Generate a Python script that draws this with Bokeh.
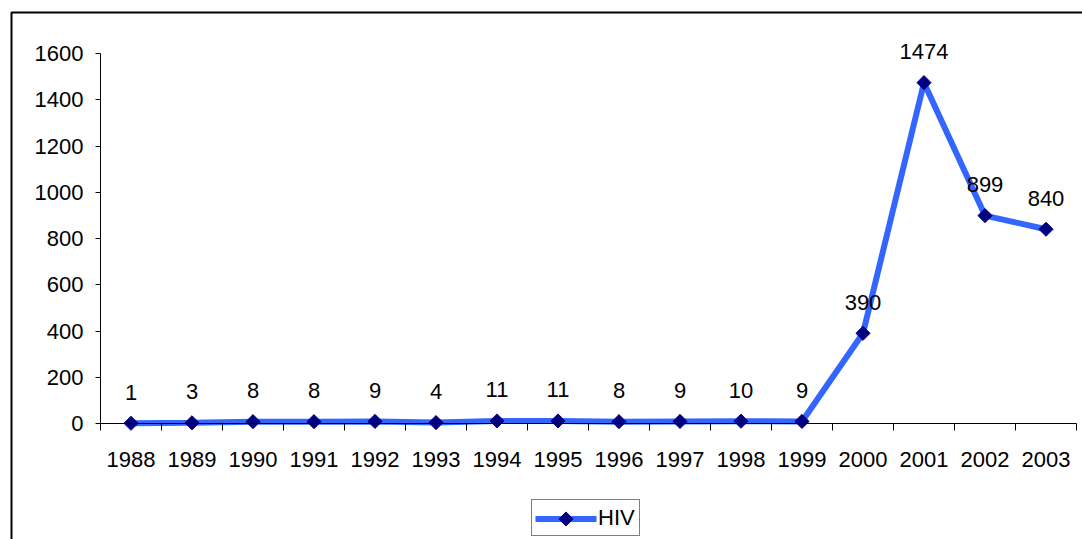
import math
from bokeh.plotting import figure
from bokeh.models import (Range1d, FixedTicker, ColumnDataSource, Legend, LegendItem,
                          BoxAnnotation)
from bokeh.core.properties import value
from bokeh.embed import file_html
from bokeh.resources import INLINE

years = ["1988", "1989", "1990", "1991", "1992", "1993", "1994", "1995",
         "1996", "1997", "1998", "1999", "2000", "2001", "2002", "2003"]
hiv = [1, 3, 8, 8, 9, 4, 11, 11, 8, 9, 10, 9, 390, 1474, 899, 840]
y_ticks = [0, 200, 400, 600, 800, 1000, 1200, 1400, 1600]
series_name = "HIV"

FONT = "Liberation Sans"
W, H = 1082, 539
# pixel layout of the plotting area inside the canvas
X0, X1 = 100, 1076      # left / right of category axis
Y0, Y1 = 423, 53        # pixel rows of value 0 and 1600
n = len(years)
pxx = (X1 - X0) / n
pxy = (Y0 - Y1) / 1600.0


def dx(px):
    return (px - X0) / pxx


def dy(py):
    return (Y0 - py) / pxy


LINE_COLOR = "#3366FF"
MARK_COLOR = "#000080"

xs = [i + 0.5 for i in range(n)]
src = ColumnDataSource(dict(x=xs, y=hiv, lab=[str(v) for v in hiv]))

p = figure(width=W, height=H, output_backend="svg", toolbar_location=None,
           x_range=Range1d(dx(0), dx(W)), y_range=Range1d(dy(H), dy(0)),
           min_border=0, min_border_left=0, min_border_right=0,
           min_border_top=0, min_border_bottom=0)
p.outline_line_color = None
p.grid.visible = False
p.background_fill_color = "white"
p.border_fill_color = "white"

# x axis: boundary ticks as minor, labels at category centers
p.xaxis.fixed_location = 0
p.xaxis.bounds = (0, n)
p.xaxis.ticker = FixedTicker(ticks=xs, minor_ticks=list(range(n + 1)))
p.xaxis.major_label_overrides = {x: y for x, y in zip(xs, years)}
p.xaxis.major_tick_line_color = None
p.xaxis.major_tick_out = 0
p.xaxis.major_tick_in = 0
p.xaxis.minor_tick_out = 7
p.xaxis.minor_tick_in = 0
p.xaxis.minor_tick_line_color = "black"
p.xaxis.major_label_standoff = 21

p.yaxis.fixed_location = 0
p.yaxis.bounds = (0, 1600)
p.yaxis.ticker = FixedTicker(ticks=y_ticks)
p.yaxis.major_tick_out = 5
p.yaxis.major_tick_in = 0
p.yaxis.minor_tick_line_color = None
p.yaxis.major_label_standoff = 12

for ax in (p.xaxis, p.yaxis):
    ax.axis_line_color = "black"
    ax.axis_line_width = 1
    ax.major_label_text_font = FONT
    ax.major_label_text_font_size = "22px"
    ax.major_label_text_color = "black"

ln = p.line("x", "y", source=src, line_color=LINE_COLOR, line_width=6)
mk = p.scatter("x", "y", source=src, marker="square", angle=math.pi / 4, size=10,
               fill_color=MARK_COLOR, line_color=MARK_COLOR)
p.text("x", "y", text="lab", source=src, text_font=value(FONT),
       text_font_size="22px", text_align="center", text_baseline="middle",
       y_offset=-31, text_color="black")

# legend (box at page px 531..645 x 501..536)
LEG_LEFT, LEG_BOTTOM, PAD, GW, GH = 531, 3, 4, 61, 27
sw_x = LEG_LEFT + PAD + GW / 2.0
sw_y = H - LEG_BOTTOM - PAD - GH / 2.0
# swatch drawn as glyphs beneath a transparent legend box
p.line(x=[dx(sw_x - GW / 2.0), dx(sw_x + GW / 2.0)], y=[dy(sw_y), dy(sw_y)],
       line_color=LINE_COLOR, line_width=6)
p.scatter(x=[dx(sw_x)], y=[dy(sw_y)], marker="square", angle=math.pi / 4, size=10,
          fill_color=MARK_COLOR, line_color=MARK_COLOR)
leg_proxy = p.scatter(x=[], y=[], size=1, fill_alpha=0, line_alpha=0)
legend = Legend(items=[LegendItem(label=series_name, renderers=[leg_proxy])],
                location=(LEG_LEFT, LEG_BOTTOM), orientation="horizontal",
                label_text_font=FONT, label_text_font_size="22px",
                label_text_color="black", glyph_width=GW, glyph_height=GH,
                label_standoff=1, padding=PAD, margin=0,
                border_line_color="black", border_line_width=1,
                background_fill_alpha=0)
p.add_layout(legend, "center")

# outer chart-area border (top and left edges visible)
frame_box = BoxAnnotation(left=dx(11), right=n + 50, top=dy(12), bottom=-5000,
                          fill_color=None, fill_alpha=0, line_color="black",
                          line_alpha=1.0, line_width=2)
p.add_layout(frame_box)

open("out.html", "w").write(file_html(p, INLINE))
